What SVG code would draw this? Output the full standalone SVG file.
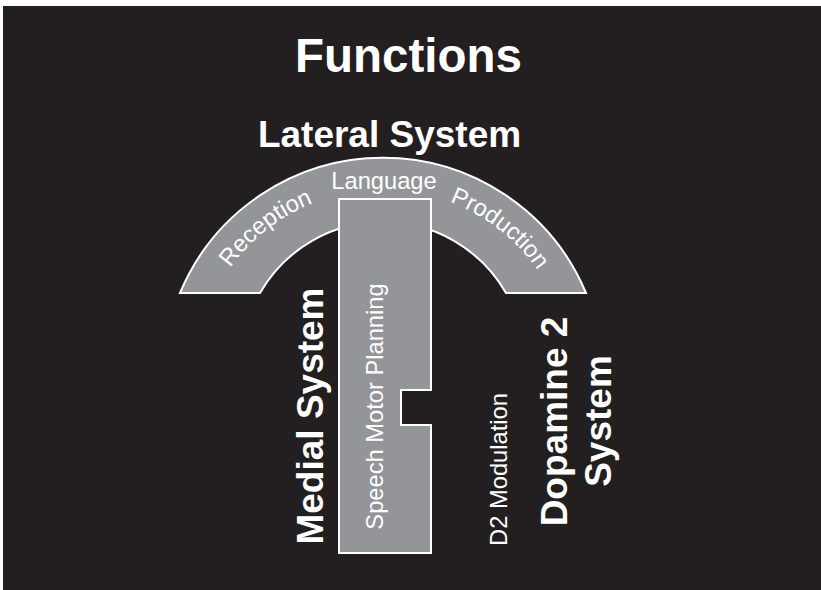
<svg xmlns="http://www.w3.org/2000/svg" width="821" height="590" viewBox="0 0 821 590">
<style>
.bold{font-family:"Liberation Sans",Arial,sans-serif;font-weight:bold;fill:#fff;text-anchor:middle}
.reg{font-family:"Liberation Sans",Arial,sans-serif;font-size:23.7px;fill:#fff;text-anchor:middle}
.shape{fill:#939598;stroke:#fff;stroke-width:2;stroke-linejoin:miter}
</style>
<defs>
<path id="labelArc" d="M194.5,378 A188.5,188.5 0 0 1 571.5,378" fill="none"/>
</defs>
<rect x="3" y="6" width="818" height="584" fill="#231f20"/>
<g id="title"><text class="bold" x="408.5" y="72" font-size="47.5">Functions</text></g>
<g id="lateral-system">
<path class="shape" d="M180,293 A220,220 0 0 1 586,293 L506,293 A141.9,141.9 0 0 0 260,293 Z"/>
<text class="bold" x="389.5" y="147" font-size="37">Lateral System</text>
<text class="reg" x="384" y="189">Language</text>
<text class="reg"><textPath href="#labelArc" startOffset="28.9%">Reception</textPath></text>
<text class="reg"><textPath href="#labelArc" startOffset="71.1%">Production</textPath></text>
</g>
<g id="medial-system">
<path class="shape" d="M339,199 H431 V390 H401 V425 H431 V553 H339 Z"/>
<text class="reg" transform="translate(383,406.5) rotate(-90)">Speech Motor Planning</text>
<text class="bold" font-size="37" transform="translate(323,416) rotate(-90)">Medial System</text>
</g>
<g id="dopamine-system">
<text class="reg" transform="translate(507,469.5) rotate(-90)">D2 Modulation</text>
<text class="bold" font-size="37" transform="translate(567,421.5) rotate(-90)">Dopamine 2</text>
<text class="bold" font-size="37" transform="translate(611,421) rotate(-90)">System</text>
</g>
<g id="connectors"></g>
</svg>
